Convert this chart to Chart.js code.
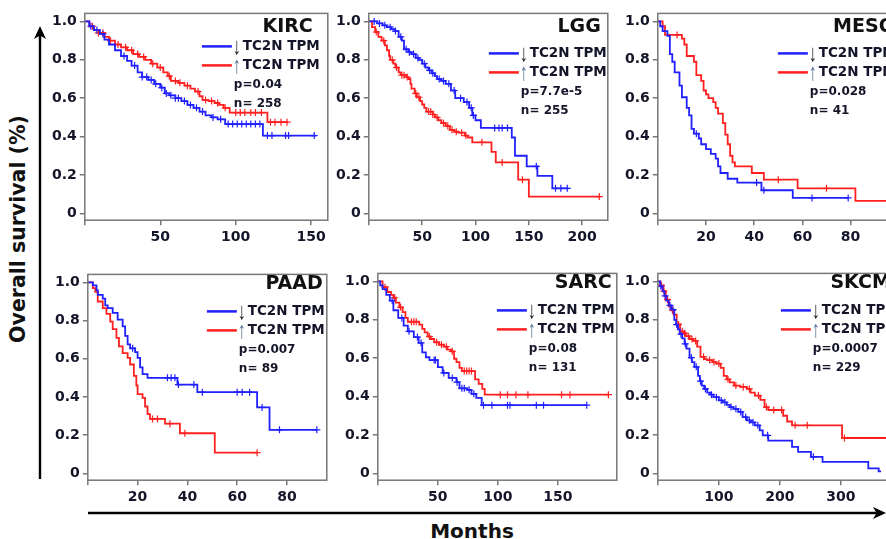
<!DOCTYPE html>
<html>
<head>
<meta charset="utf-8">
<script src="https://cdn.jsdelivr.net/npm/chart.js@4.4.0/dist/chart.umd.min.js"></script>
<style>
  html, body { margin: 0; padding: 0; overflow: hidden; background: #fff; }
  body { position: relative; width: 886px; height: 539px; font-family: "DejaVu Sans", sans-serif; }
  canvas { position: absolute; }
  #ylab { position: absolute; left: 18px; top: 229px; transform: translate(-50%, -50%) rotate(-90deg);
          white-space: nowrap; font: bold 20.5px "DejaVu Sans"; color: #111; }
  #xlab { position: absolute; left: 472px; top: 519px; transform: translateX(-50%);
          font: bold 20px "DejaVu Sans"; color: #111; }
</style>
</head>
<body>
<svg width="886" height="539" style="position:absolute;left:0;top:0">
  <line x1="40" y1="479" x2="40" y2="34" stroke="#000" stroke-width="2.4"/>
  <polygon points="40,26 34,39 40,35.5 46,39" fill="#000"/>
  <line x1="88" y1="513" x2="878" y2="513" stroke="#000" stroke-width="2.4"/>
  <polygon points="886,513 873,507 876.5,513 873,519" fill="#000"/>
</svg>
<div id="ylab">Overall survival (%)</div>
<div id="xlab">Months</div>

<script>
// --- data ---
const cancerTypes = ["KIRC", "LGG", "MESO", "PAAD", "SARC", "SKCM"];
const pValues = ["p=0.04", "p=7.7e-5", "p=0.028", "p=0.007", "p=0.08", "p=0.0007"];
const nValues = ["n= 258", "n= 255", "n= 41", "n= 89", "n= 131", "n= 229"];
const yTicks = [0, 0.2, 0.4, 0.6, 0.8, 1.0];

// KIRC
const kircXTicks = [50, 100, 150];
const kircLowT = [0, 3, 6, 10, 13, 16, 20, 24, 28, 31, 35, 38, 42, 46, 50, 53, 56, 60, 64, 68, 72, 76, 80, 84, 88, 93, 118, 153];
const kircLowS = [1, 0.975, 0.955, 0.935, 0.905, 0.88, 0.85, 0.82, 0.795, 0.77, 0.735, 0.71, 0.695, 0.675, 0.655, 0.625, 0.615, 0.6, 0.585, 0.565, 0.55, 0.53, 0.51, 0.5, 0.49, 0.465, 0.405, 0.405];
const kircLowCens = [4, 8, 12, 26, 33, 38, 41, 44, 47, 51, 54, 57, 60, 62, 66, 70, 74, 78, 85, 90, 95, 98, 101, 104, 107, 110, 113, 116, 121, 124, 133, 135, 152];
const kircHighT = [0, 3, 6, 9, 13, 16, 20, 24, 28, 32, 36, 40, 44, 48, 52, 55, 57, 62, 66, 70, 73, 76, 78, 82, 86, 89, 92, 96, 121, 134];
const kircHighS = [1, 0.975, 0.955, 0.94, 0.92, 0.9, 0.88, 0.865, 0.85, 0.83, 0.815, 0.8, 0.78, 0.76, 0.735, 0.715, 0.69, 0.68, 0.665, 0.65, 0.635, 0.61, 0.59, 0.585, 0.575, 0.565, 0.55, 0.525, 0.475, 0.475];
const kircHighCens = [5, 9, 12, 17, 22, 27, 31, 35, 39, 45, 50, 56, 60, 63, 68, 75, 80, 84, 88, 93, 100, 103, 106, 110, 113, 117, 123, 126, 130, 134];

// LGG
const lggXTicks = [50, 100, 150, 200];
const lggLowT = [0, 8, 13, 17, 21, 24, 28, 31, 33, 37, 40, 44, 47, 50, 53, 56, 59, 62, 64, 68, 72, 77, 81, 89, 94, 97, 100, 105, 134, 137, 148, 158, 172, 187];
const lggLowS = [1, 0.99, 0.98, 0.97, 0.96, 0.95, 0.92, 0.9, 0.855, 0.84, 0.83, 0.81, 0.8, 0.78, 0.76, 0.745, 0.73, 0.715, 0.7, 0.69, 0.675, 0.64, 0.6, 0.58, 0.55, 0.51, 0.485, 0.445, 0.395, 0.3, 0.245, 0.195, 0.13, 0.13];
const lggLowCens = [5, 10, 15, 20, 25, 30, 35, 38, 42, 46, 52, 57, 60, 66, 70, 75, 80, 86, 92, 96, 98, 118, 122, 125, 130, 157, 175, 180, 186];
const lggHighT = [0, 3, 6, 9, 12, 15, 17, 19, 20, 23, 25, 28, 30, 35, 37, 39, 40, 43, 45, 48, 50, 52, 54, 60, 62, 65, 68, 72, 76, 80, 84, 90, 93, 97, 115, 119, 140, 150, 217];
const lggHighS = [1, 0.97, 0.945, 0.92, 0.9, 0.875, 0.85, 0.82, 0.8, 0.78, 0.76, 0.735, 0.72, 0.71, 0.7, 0.675, 0.65, 0.625, 0.605, 0.585, 0.567, 0.55, 0.53, 0.515, 0.5, 0.485, 0.47, 0.455, 0.435, 0.425, 0.42, 0.405, 0.395, 0.37, 0.32, 0.265, 0.175, 0.087, 0.087];
const lggHighCens = [7, 14, 22, 26, 31, 33, 36, 44, 47, 56, 58, 60, 64, 70, 74, 78, 82, 87, 91, 106, 125, 144, 216];

// MESO
const mesoXTicks = [20, 40, 60, 80];
const mesoLowT = [0, 1, 2, 4, 5, 6, 7, 9, 10, 12, 13, 14, 15, 17, 18, 20, 22, 24, 25, 26, 29, 33, 43, 56, 79];
const mesoLowS = [1, 0.975, 0.95, 0.925, 0.83, 0.79, 0.735, 0.665, 0.605, 0.55, 0.51, 0.44, 0.415, 0.39, 0.36, 0.335, 0.31, 0.285, 0.245, 0.21, 0.18, 0.16, 0.12, 0.08, 0.08];
const mesoLowCens = [16, 41, 44, 64, 79];
const mesoHighT = [0, 2, 3, 10, 11, 12, 15, 16, 18, 19, 20, 21, 23, 24, 25, 27, 28, 29, 30, 31, 32, 39, 44, 58, 82, 100];
const mesoHighS = [1, 0.975, 0.93, 0.91, 0.88, 0.82, 0.79, 0.72, 0.69, 0.64, 0.62, 0.6, 0.58, 0.55, 0.52, 0.47, 0.41, 0.36, 0.3, 0.265, 0.245, 0.21, 0.175, 0.13, 0.065, 0.065];
const mesoHighCens = [8, 50, 70];

// PAAD
const paadXTicks = [20, 40, 60, 80];
const paadLowT = [0, 2, 3.5, 4, 6, 7, 8, 10, 12, 14, 15, 16, 17, 19, 20, 21, 22, 24, 36, 44, 68, 73, 92];
const paadLowS = [1, 0.985, 0.96, 0.935, 0.915, 0.88, 0.865, 0.84, 0.805, 0.77, 0.72, 0.675, 0.655, 0.635, 0.605, 0.555, 0.52, 0.5, 0.465, 0.425, 0.345, 0.228, 0.228];
const paadLowCens = [18, 32, 33.5, 35, 36.4, 42.6, 46, 60, 62, 65, 70, 77, 92];
const paadHighT = [0, 2, 3, 4, 6, 7.5, 9, 10, 11.5, 12.5, 14, 16, 17, 18.5, 19.5, 20, 22, 23, 24, 25, 31, 37, 51, 68];
const paadHighS = [1, 0.97, 0.95, 0.9, 0.865, 0.835, 0.795, 0.755, 0.71, 0.665, 0.63, 0.605, 0.57, 0.51, 0.46, 0.415, 0.395, 0.35, 0.31, 0.285, 0.26, 0.21, 0.108, 0.108];
const paadHighCens = [26, 28, 33, 39, 68];

// SARC
const sarcXTicks = [50, 100, 150];
const sarcLowT = [0, 2, 4, 7, 10, 13, 17, 21.5, 25, 30, 34, 37, 40, 43, 50, 54, 59, 65.5, 68, 74.5, 78, 82, 86.5, 174];
const sarcLowS = [1, 0.98, 0.96, 0.93, 0.9, 0.85, 0.81, 0.77, 0.74, 0.71, 0.68, 0.63, 0.605, 0.59, 0.553, 0.523, 0.497, 0.475, 0.443, 0.435, 0.414, 0.393, 0.355, 0.355];
const sarcLowCens = [12, 20, 26, 33, 36, 47, 48, 55, 62, 66, 70, 72, 76, 80, 88, 95, 108, 110, 132, 138, 174];
const sarcHighT = [0, 4, 8, 11, 13, 15, 18, 20.7, 23, 25, 34.5, 37, 39, 41.5, 44, 47, 51, 55, 58, 61, 63.5, 65.5, 68, 70, 81, 84, 87, 89, 192];
const sarcHighS = [1, 0.97, 0.945, 0.93, 0.915, 0.89, 0.865, 0.84, 0.81, 0.79, 0.775, 0.753, 0.735, 0.713, 0.7, 0.683, 0.67, 0.66, 0.645, 0.636, 0.597, 0.58, 0.55, 0.533, 0.49, 0.466, 0.44, 0.41, 0.41];
const sarcHighCens = [6, 14, 19, 28, 30, 32, 43, 49, 53, 57, 62, 72, 74, 76, 78, 102, 108, 115, 125, 153, 160, 192];

// SKCM
const skcmXTicks = [100, 200, 300];
const skcmLowT = [0, 4, 8, 11, 14, 18, 22, 27, 30, 33, 36, 40, 44, 47, 52, 56, 60, 66, 69, 72, 76, 81, 86, 91, 100, 106, 113, 118, 124, 132, 139, 146, 152, 159, 167, 172, 181, 220, 230, 251, 270, 345, 362, 366];
const skcmLowS = [1, 0.975, 0.948, 0.925, 0.9, 0.875, 0.853, 0.8, 0.775, 0.75, 0.725, 0.703, 0.675, 0.65, 0.603, 0.58, 0.555, 0.508, 0.48, 0.457, 0.44, 0.42, 0.41, 0.397, 0.38, 0.37, 0.357, 0.345, 0.336, 0.32, 0.293, 0.276, 0.265, 0.25, 0.224, 0.198, 0.17, 0.138, 0.112, 0.086, 0.06, 0.026, 0.01, 0.01];
const skcmLowCens = [5, 12, 20, 25, 31, 38, 45, 55, 63, 70, 78, 88, 96, 104, 110, 120, 128, 136, 144, 150, 156, 164, 180, 255];
const skcmHighT = [0, 4, 9, 13, 18, 22, 26, 31, 36.5, 41, 46, 52, 58.5, 64.5, 70, 76, 81, 90, 96, 103, 108, 113, 118, 125, 135, 146, 152, 159, 168, 175, 181, 205.5, 212, 220, 302, 400];
const skcmHighS = [1, 0.98, 0.95, 0.905, 0.87, 0.85, 0.827, 0.776, 0.74, 0.73, 0.715, 0.7, 0.69, 0.66, 0.607, 0.595, 0.59, 0.58, 0.572, 0.55, 0.508, 0.49, 0.474, 0.457, 0.45, 0.44, 0.42, 0.405, 0.383, 0.345, 0.33, 0.3, 0.27, 0.25, 0.184, 0.184];
const skcmHighCens = [6, 10, 16, 24, 34, 40, 44, 50, 56, 62, 75, 85, 92, 100, 115, 128, 140, 150, 165, 178, 190, 203, 225, 245, 306];

// --- layout of the six panels (plot box in page pixels) ---
const panels = [
  { xMax: 161, xTicks: kircXTicks, low: [kircLowT, kircLowS, kircLowCens], high: [kircHighT, kircHighS, kircHighCens],
    box: { l: 85, t: 13, r: 328, b: 220 }, titleInset: 15, textInset: 8, titleY: 19, legY: 33 },
  { xMax: 224, xTicks: lggXTicks, low: [lggLowT, lggLowS, lggLowCens], high: [lggHighT, lggHighS, lggHighCens],
    box: { l: 369, t: 13, r: 608, b: 220 }, titleInset: 7, textInset: 1, titleY: 19, legY: 40 },
  { xMax: 100, xTicks: mesoXTicks, low: [mesoLowT, mesoLowS, mesoLowCens], high: [mesoHighT, mesoHighS, mesoHighCens],
    box: { l: 658, t: 13, r: 899, b: 220 }, titleInset: 4, textInset: 3, titleY: 19, legY: 40 },
  { xMax: 96, xTicks: paadXTicks, low: [paadLowT, paadLowS, paadLowCens], high: [paadHighT, paadHighS, paadHighCens],
    box: { l: 88, t: 274, r: 327, b: 480 }, titleInset: 4, textInset: 2, titleY: 15, legY: 37 },
  { xMax: 199, xTicks: sarcXTicks, low: [sarcLowT, sarcLowS, sarcLowCens], high: [sarcHighT, sarcHighS, sarcHighCens],
    box: { l: 378, t: 273, r: 617, b: 480 }, titleInset: 5, textInset: 2, titleY: 15, legY: 37 },
  { xMax: 395, xTicks: skcmXTicks, low: [skcmLowT, skcmLowS, skcmLowCens], high: [skcmHighT, skcmHighS, skcmHighCens],
    box: { l: 658, t: 273, r: 899, b: 480 }, titleInset: 8, textInset: 0, titleY: 15, legY: 37 }
];

const BLUE = '#1f1fff';
const RED = '#ff1f1f';
const FRAME = '#777';
const TEXT = '#15152a';

Chart.defaults.font.family = '"DejaVu Sans"';
Chart.defaults.color = TEXT;

function toPoints(T, S) {
  return T.map((t, i) => ({ x: t, y: S[i] }));
}

// survival value of the step curve at time t, so a censor mark sits on its curve
function survAt(T, S, t) {
  let s = S[0];
  for (let i = 0; i < T.length; i++) { if (T[i] <= t) s = S[i]; }
  return s;
}

function censPoints(T, S, C) {
  return C.map(t => ({ x: t, y: survAt(T, S, t) }));
}

const kmText = {
  id: 'kmText',
  afterDraw(chart, args, o) {
    const { ctx, chartArea: a } = chart;
    ctx.save();
    ctx.strokeStyle = FRAME;
    ctx.lineWidth = 1.5;
    ctx.strokeRect(a.left, a.top, a.right - a.left, a.bottom - a.top);
    ctx.beginPath();
    ctx.moveTo(a.left, a.bottom);
    ctx.lineTo(a.left, a.bottom + 5);
    ctx.stroke();

    ctx.fillStyle = '#111';
    ctx.textAlign = 'right';
    ctx.textBaseline = 'alphabetic';
    ctx.font = 'bold 19px "DejaVu Sans"';
    ctx.fillText(o.title, a.right - o.titleInset, a.top + o.titleY);

    ctx.font = 'bold 13.5px "DejaVu Sans"';
    const label = 'TC2N TPM';
    const textRight = a.right - o.textInset;
    const textLeft = textRight - ctx.measureText(label).width;
    const rows = [
      { y: a.top + o.legY, color: BLUE, arrow: '\u2193', arrowColor: '#222' },
      { y: a.top + o.legY + 19, color: RED, arrow: '\u2191', arrowColor: '#4f6f94' }
    ];
    let arrowLeft = textLeft;
    rows.forEach(r => {
      ctx.textAlign = 'left';
      ctx.textBaseline = 'middle';
      ctx.fillStyle = TEXT;
      ctx.font = 'bold 13.5px "DejaVu Sans"';
      ctx.fillText(label, textLeft, r.y);
      // tall, narrow arrow glyph
      ctx.save();
      ctx.translate(textLeft - 1.5, r.y);
      ctx.scale(0.7, 1);
      ctx.font = '24px "Liberation Sans"';
      ctx.textAlign = 'right';
      ctx.textBaseline = 'middle';
      ctx.fillStyle = r.arrowColor;
      ctx.fillText(r.arrow, 0, 1);
      const aw = ctx.measureText(r.arrow).width * 0.7;
      ctx.restore();
      arrowLeft = textLeft - 1.5 - aw;
      ctx.strokeStyle = r.color;
      ctx.lineWidth = 2.5;
      ctx.beginPath();
      ctx.moveTo(arrowLeft - 31, r.y);
      ctx.lineTo(arrowLeft - 1, r.y);
      ctx.stroke();
    });
    ctx.fillStyle = TEXT;
    ctx.textAlign = 'left';
    ctx.textBaseline = 'alphabetic';
    ctx.font = 'bold 12px "DejaVu Sans"';
    ctx.fillText(o.p, arrowLeft + 1, a.top + o.legY + 42);
    ctx.fillText(o.n, arrowLeft + 1, a.top + o.legY + 61);
    ctx.restore();
  }
};

function chartConfig(cfg, i) {
  const [lT, lS, lC] = cfg.low;
  const [hT, hS, hC] = cfg.high;
  const curve = (data, color) => ({
    data, borderColor: color, borderWidth: 1.8, stepped: 'before',
    pointRadius: 0, fill: false, tension: 0
  });
  const marks = (data, color) => ({
    data, borderColor: color, backgroundColor: color, showLine: false,
    pointStyle: 'cross', pointRadius: 3.5, pointBorderWidth: 1.2
  });
  return {
    type: 'line',
    data: {
      datasets: [
        curve(toPoints(lT, lS), BLUE),
        curve(toPoints(hT, hS), RED),
        marks(censPoints(lT, lS, lC), BLUE),
        marks(censPoints(hT, hS, hC), RED)
      ]
    },
    options: {
      responsive: false,
      animation: false,
      events: [],
      layout: { padding: 0 },
      plugins: {
        legend: { display: false },
        tooltip: { enabled: false },
        kmText: {
          title: cancerTypes[i], p: pValues[i], n: nValues[i],
          titleInset: cfg.titleInset, textInset: cfg.textInset, titleY: cfg.titleY, legY: cfg.legY
        }
      },
      scales: {
        x: {
          type: 'linear', min: 0, max: cfg.xMax,
          afterBuildTicks: s => { s.ticks = cfg.xTicks.map(v => ({ value: v })); },
          ticks: { font: { size: 14, weight: 'bold' }, padding: 4, maxRotation: 0, autoSkip: false },
          grid: { drawOnChartArea: false, drawTicks: true, tickLength: 5, color: FRAME, lineWidth: 1.5 },
          border: { display: false }
        },
        y: {
          type: 'linear', min: -0.036, max: 1.042,
          afterBuildTicks: s => { s.ticks = yTicks.map(v => ({ value: v })); },
          ticks: {
            font: { size: 14, weight: 'bold' }, padding: 3, autoSkip: false,
            callback: v => (v === 0 ? '0' : v.toFixed(1))
          },
          grid: { drawOnChartArea: false, drawTicks: true, tickLength: 5, color: FRAME, lineWidth: 1.5 },
          border: { display: false }
        }
      }
    },
    plugins: [kmText]
  };
}

function buildPanel(cfg, i) {
  const canvas = document.createElement('canvas');
  document.body.appendChild(canvas);
  const bw = cfg.box.r - cfg.box.l;
  const bh = cfg.box.b - cfg.box.t;
  const W0 = bw + 60, H0 = bh + 40;
  canvas.width = W0;
  canvas.height = H0;
  let chart = new Chart(canvas, chartConfig(cfg, i));
  const a = chart.chartArea;
  const extraW = W0 - (a.right - a.left);
  const extraH = H0 - (a.bottom - a.top);
  chart.destroy();
  canvas.width = Math.round(bw + extraW);
  canvas.height = Math.round(bh + extraH);
  chart = new Chart(canvas, chartConfig(cfg, i));
  const a2 = chart.chartArea;
  canvas.style.left = (cfg.box.l - a2.left) + 'px';
  canvas.style.top = (cfg.box.t - a2.top) + 'px';
}

panels.forEach(buildPanel);
</script>
</body>
</html>
